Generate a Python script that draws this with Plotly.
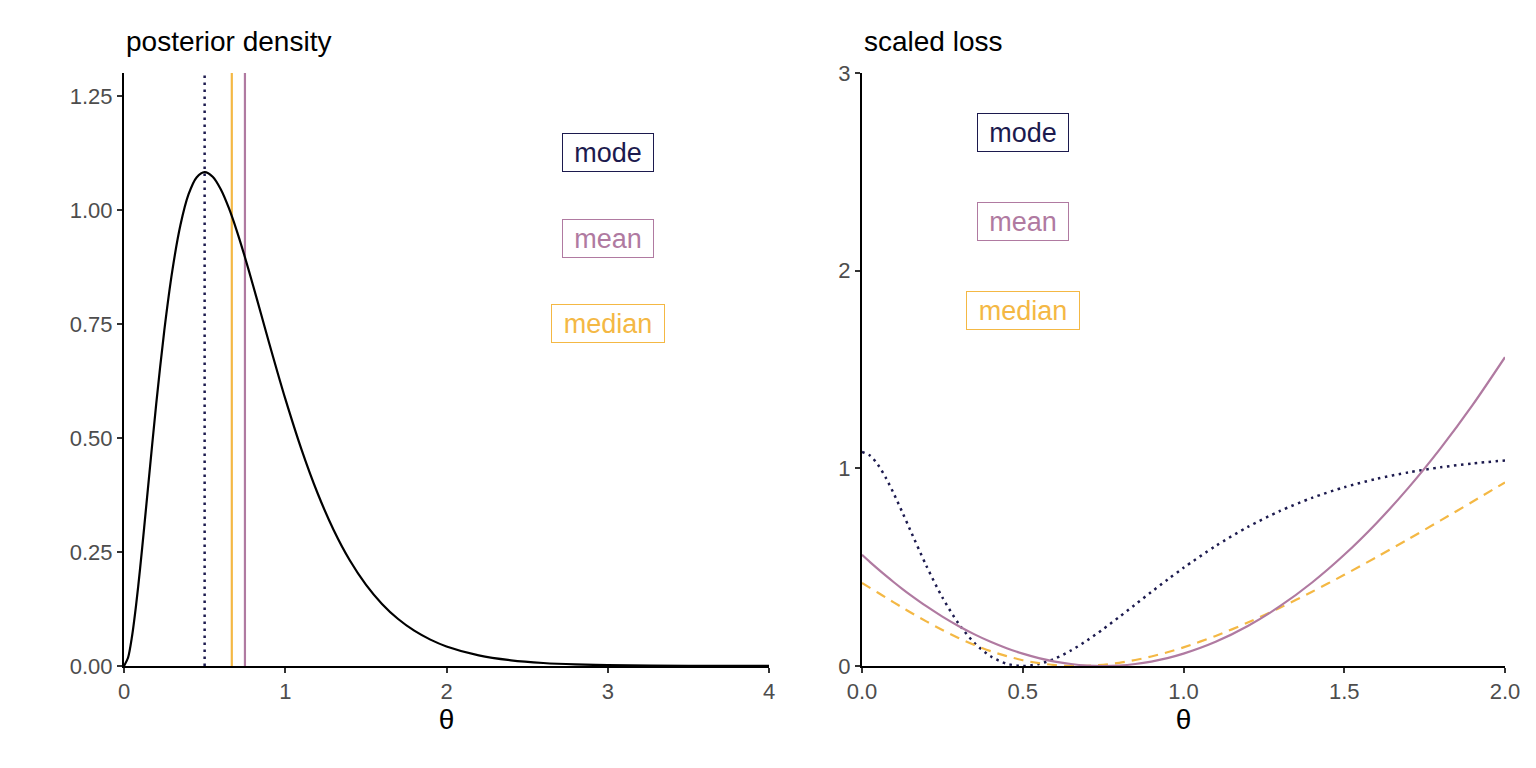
import plotly.graph_objects as go

# ---------------- data ----------------
theta_density = [0, 0.025, 0.05, 0.075, 0.1, 0.125, 0.15, 0.2, 0.25, 0.3, 0.35, 0.4, 0.45, 0.5,
                 0.55, 0.6, 0.65, 0.7, 0.75, 0.8, 0.85, 0.9, 0.95, 1.0, 1.1, 1.2, 1.3, 1.4,
                 1.5, 1.6, 1.7, 1.8, 1.9, 2.0, 2.2, 2.4, 2.6, 2.8, 3.0, 3.5, 4.0]
density = [0, 0.0181, 0.0655, 0.1333, 0.2145, 0.3033, 0.3951, 0.5751, 0.7358, 0.8674, 0.9667,
           1.0337, 1.0711, 1.0827, 1.0725, 1.0451, 1.0042, 0.9535, 0.8962, 0.8348, 0.7716,
           0.7082, 0.6461, 0.5861, 0.4754, 0.3792, 0.2983, 0.2319, 0.1785, 0.1361, 0.1030,
           0.0774, 0.0578, 0.0429, 0.0233, 0.0125, 0.0066, 0.0034, 0.0018, 0.0003, 0.0001]

mode_value = 0.5
median_value = 0.6685
mean_value = 0.75

theta_loss = [0, 0.025, 0.05, 0.075, 0.1, 0.125, 0.15, 0.2, 0.25, 0.3, 0.35, 0.4, 0.45, 0.5,
              0.55, 0.6, 0.65, 0.7, 0.75, 0.8, 0.85, 0.9, 0.95, 1.0, 1.1, 1.2, 1.3, 1.4,
              1.5, 1.6, 1.7, 1.8, 1.9, 2.0]
loss_mode = [1.0827, 1.0646, 1.0172, 0.9494, 0.8682, 0.7794, 0.6876, 0.5076, 0.3469, 0.2153,
             0.1160, 0.0490, 0.0116, 0.0, 0.0102, 0.0376, 0.0785, 0.1292, 0.1865, 0.2479,
             0.3111, 0.3745, 0.4366, 0.4966, 0.6073, 0.7035, 0.7844, 0.8508, 0.9042, 0.9466,
             0.9797, 1.0053, 1.0249, 1.0398]
loss_mean = [0.5625, 0.5256, 0.49, 0.4556, 0.4225, 0.3906, 0.36, 0.3025, 0.25, 0.2025, 0.16,
             0.1225, 0.09, 0.0625, 0.04, 0.0225, 0.01, 0.0025, 0.0, 0.0025, 0.01, 0.0225,
             0.04, 0.0625, 0.1225, 0.2025, 0.3025, 0.4225, 0.5625, 0.7225, 0.9025, 1.1025,
             1.3225, 1.5625]
loss_median = [0.4203, 0.3953, 0.3703, 0.3455, 0.3207, 0.2962, 0.2722, 0.2257, 0.1820, 0.1419,
               0.1063, 0.0754, 0.0497, 0.0293, 0.0143, 0.0047, 0.0003, 0.0010, 0.0064, 0.0162,
               0.0303, 0.0482, 0.0696, 0.0943, 0.1522, 0.2196, 0.2946, 0.3756, 0.4612, 0.5504,
               0.6424, 0.7365, 0.8321, 0.9289]

labels = ["mode", "mean", "median"]
label_y_left = [1.125, 0.9375, 0.75]
label_y_right = [2.7, 2.25, 1.8]
label_x_left = 3.0
label_x_right = 0.5

left_x_ticks = [0, 1, 2, 3, 4]
left_y_ticks = [0, 0.25, 0.5, 0.75, 1.0, 1.25]
right_x_ticks = [0, 0.5, 1.0, 1.5, 2.0]
right_y_ticks = [0, 1, 2, 3]

# ---------------- style ----------------
C_MODE = "#1c1a4e"
C_MEAN = "#b07aa1"
C_MEDIAN = "#f4b844"
colors = {"mode": C_MODE, "mean": C_MEAN, "median": C_MEDIAN}
box_width = {"mode": 84, "mean": 84, "median": 106}
FONT = "Liberation Sans, Arial, sans-serif"
TICK_COLOR = "#4d4d4d"
DOT = "2.5px,4.5px"

# figure sized to fit inside the page body (8px default body margin)
W, H = 1520, 752
ML, MR, MT, MB = 116, 23, 65, 94
IW = W - ML - MR
LEFT_PANEL_PX = 645
GAP_PX = 93

fig = go.Figure()

# left: posterior density
fig.add_trace(go.Scatter(x=theta_density, y=density, mode="lines",
                         line=dict(color="black", width=2.2, shape="spline", smoothing=0.8),
                         xaxis="x", yaxis="y", showlegend=False, hoverinfo="skip"))

# right: scaled loss
fig.add_trace(go.Scatter(x=theta_loss, y=loss_mode, mode="lines",
                         line=dict(color=C_MODE, width=2.5, dash=DOT, shape="spline", smoothing=0.8),
                         xaxis="x2", yaxis="y2", showlegend=False))
fig.add_trace(go.Scatter(x=theta_loss, y=loss_median, mode="lines",
                         line=dict(color=C_MEDIAN, width=2.2, dash="10px,7px", shape="spline",
                                   smoothing=0.8),
                         xaxis="x2", yaxis="y2", showlegend=False))
fig.add_trace(go.Scatter(x=theta_loss, y=loss_mean, mode="lines",
                         line=dict(color=C_MEAN, width=2.2, shape="spline", smoothing=0.8),
                         xaxis="x2", yaxis="y2", showlegend=False))

# vertical lines for point estimates
for val, col, dash in [(mode_value, C_MODE, DOT),
                       (median_value, C_MEDIAN, "solid"),
                       (mean_value, C_MEAN, "solid")]:
    fig.add_shape(type="line", xref="x", yref="y domain", x0=val, x1=val, y0=0, y1=1,
                  line=dict(color=col, width=2.5 if dash != "solid" else 2.2, dash=dash),
                  layer="below")

# labels
for lab, yl, yr in zip(labels, label_y_left, label_y_right):
    for xr, yrf, xv, yv in [("x", "y", label_x_left, yl), ("x2", "y2", label_x_right, yr)]:
        fig.add_annotation(x=xv, y=yv, xref=xr, yref=yrf, text=lab, showarrow=False,
                           font=dict(family=FONT, size=27, color=colors[lab]),
                           bordercolor=colors[lab], borderwidth=1, borderpad=3,
                           width=box_width[lab], height=31,
                           bgcolor="white", xanchor="center", yanchor="middle")

# panel titles
for xr, yr, txt in [("x domain", "y domain", "posterior density"),
                    ("x2 domain", "y2 domain", "scaled loss")]:
    fig.add_annotation(x=0, y=1, xref=xr, yref=yr, text=txt, showarrow=False,
                       xanchor="left", yanchor="bottom", yshift=14,
                       font=dict(family=FONT, size=28, color="black"))

axis_common = dict(showline=True, linecolor="black", linewidth=2, ticks="outside",
                   ticklen=5, tickwidth=2, tickcolor="#333333", showgrid=False, zeroline=False,
                   automargin=False,
                   tickfont=dict(family=FONT, size=22, color=TICK_COLOR))
xtitle = dict(text="θ", font=dict(family=FONT, size=28, color="black"), standoff=4)

fig.update_layout(
    width=W, height=H,
    margin=dict(l=ML, r=MR, t=MT, b=MB),
    paper_bgcolor="white", plot_bgcolor="white",
    font=dict(family=FONT),
    xaxis=dict(domain=[0, LEFT_PANEL_PX / IW], range=[0, 4], tickvals=left_x_ticks,
               ticktext=[str(v) for v in left_x_ticks], anchor="y", title=xtitle,
               **axis_common),
    yaxis=dict(domain=[0, 1], range=[0, 1.3], tickvals=left_y_ticks,
               ticktext=[f"{v:.2f}" for v in left_y_ticks], anchor="x", **axis_common),
    xaxis2=dict(domain=[(LEFT_PANEL_PX + GAP_PX) / IW, 1], range=[0, 2], tickvals=right_x_ticks,
                ticktext=[f"{v:.1f}" for v in right_x_ticks], anchor="y2", title=xtitle,
                **axis_common),
    yaxis2=dict(domain=[0, 1], range=[0, 3], tickvals=right_y_ticks,
                ticktext=[str(v) for v in right_y_ticks], anchor="x2", **axis_common),
)

fig.write_html("out.html")
